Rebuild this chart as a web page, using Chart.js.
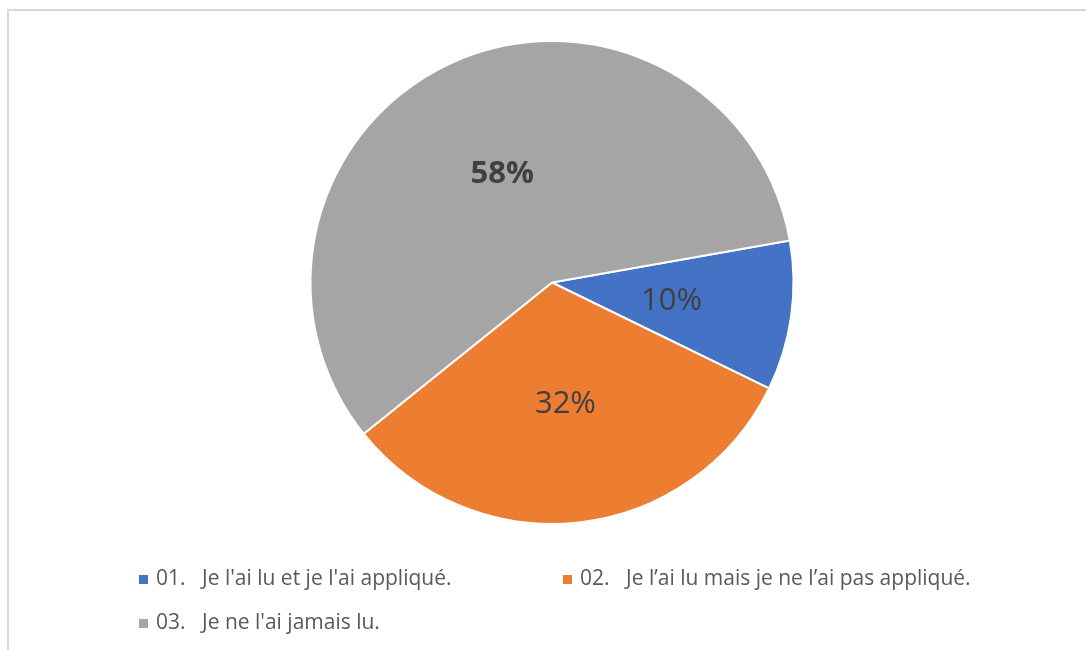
<!DOCTYPE html>
<html>
<head>
<meta charset="utf-8">
<script src="https://cdn.jsdelivr.net/npm/chart.js@4.4.1/dist/chart.umd.min.js"></script>
<style>
  body { margin: 0; background: #fff; overflow: hidden; }
  #wrap { position: relative; width: 1086px; height: 650px; }
  #frame {
    position: absolute; left: 7px; top: 9px; width: 1200px; height: 800px;
    border: 2px solid #d9d9d9; box-sizing: border-box;
  }
  canvas { position: absolute; left: 0; top: 0; }
</style>
</head>
<body>
<div id="wrap">
  <div id="frame"></div>
  <canvas id="pie" width="1086" height="650"></canvas>
</div>
<script>
// Donnees
const categories = [
  "01.\tJe l'ai lu et je l'ai appliqué.",
  "02.\tJe l’ai lu mais je ne l’ai pas appliqué.",
  "03.\tJe ne l'ai jamais lu."
];
const values = [10, 32, 58];
const colors = ["#4472C4", "#ED7D31", "#A5A5A5"];

// Etiquettes de pourcentage au milieu des parts
const sliceLabels = {
  id: "sliceLabels",
  afterDatasetsDraw(chart) {
    const ctx = chart.ctx;
    const meta = chart.getDatasetMeta(0);
    const total = values.reduce((a, b) => a + b, 0);
    ctx.save();
    ctx.textAlign = "center";
    ctx.textBaseline = "middle";
    ctx.fillStyle = "#404040";
    meta.data.forEach((arc, i) => {
      const mid = (arc.startAngle + arc.endAngle) / 2;
      const r = arc.outerRadius * 0.5;
      const x = arc.x + Math.cos(mid) * r;
      const y = arc.y + Math.sin(mid) * r;
      const pct = Math.round((values[i] / total) * 100) + "%";
      ctx.font = (i === 2 ? "bold " : "") + "31px 'Open Sans'";
      ctx.fillText(pct, x, y + 2);
    });
    ctx.restore();
  }
};

// Legende facon Excel (grille a deux colonnes)
const excelLegend = {
  id: "excelLegend",
  afterDraw(chart) {
    const ctx = chart.ctx;
    const cols = [139, 563];
    const rows = [579, 623];
    ctx.save();
    ctx.textBaseline = "middle";
    ctx.font = "21px 'Open Sans'";
    categories.forEach((label, i) => {
      const x = cols[i % 2];
      const y = rows[Math.floor(i / 2)];
      const parts = label.split("\t");
      ctx.fillStyle = colors[i];
      ctx.fillRect(x, y - 4, 9, 9);
      ctx.fillStyle = "#595959";
      ctx.fillText(parts[0], x + 17, y);
      ctx.fillText(parts[1], x + 63, y);
    });
    ctx.restore();
  }
};

new Chart(document.getElementById("pie"), {
  type: "pie",
  data: {
    labels: categories,
    datasets: [{
      data: values,
      backgroundColor: colors,
      borderColor: "#ffffff",
      borderWidth: 2,
      radius: 241.5
    }]
  },
  options: {
    responsive: false,
    animation: false,
    rotation: 80,
    layout: { padding: { left: 20, right: 2, top: 0, bottom: 85 } },
    plugins: {
      legend: { display: false },
      tooltip: { enabled: false }
    }
  },
  plugins: [sliceLabels, excelLegend]
});
</script>
</body>
</html>
